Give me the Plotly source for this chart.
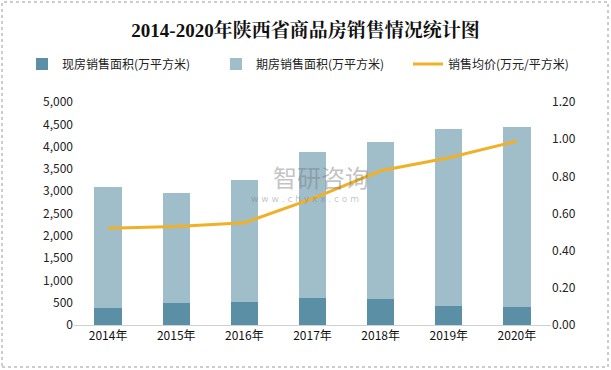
import plotly.graph_objects as go

years = ["2014年", "2015年", "2016年", "2017年", "2018年", "2019年", "2020年"]
spot_area = [380, 500, 520, 610, 585, 435, 410]          # 现房销售面积
presale_area = [2715, 2460, 2730, 3270, 3525, 3960, 4030]  # 期房销售面积
avg_price = [0.52, 0.53, 0.55, 0.68, 0.83, 0.90, 0.99]     # 销售均价

L, R, T, B = 74, 60, 102, 45
W, H = 611, 370
pw, ph = W - L - R, H - T - B

cjk = "Noto Sans CJK SC"
fig = go.Figure()
fig.add_trace(go.Bar(x=years, y=spot_area, name="现房销售面积(万平方米)", legend="legend",
                     marker=dict(color="#5b8fa5", line=dict(width=0))))
fig.add_trace(go.Bar(x=years, y=presale_area, name="期房销售面积(万平方米)", legend="legend2",
                     marker=dict(color="#a0bdca", line=dict(width=0))))
fig.add_trace(go.Scatter(x=years, y=avg_price, name="销售均价(万元/平方米)", yaxis="y2", legend="legend3",
                         mode="lines", line=dict(color="#f0b027", width=3)))

legy = (H - B - 64) / ph
leg_common = dict(orientation="h", xanchor="left", y=legy, yanchor="middle",
                  font=dict(size=12, color="#222"), itemwidth=30, bgcolor="rgba(0,0,0,0)")

fig.update_layout(
    width=W, height=H,
    margin=dict(l=L, r=R, t=T, b=B, autoexpand=False),
    paper_bgcolor="white", plot_bgcolor="white",
    barmode="stack", bargap=0.6,
    font=dict(family=cjk, size=12, color="#222"),
    title=dict(text="<b>2014-2020年陕西省商品房销售情况统计图</b>",
               x=0.5, xanchor="center", y=1 - 30 / H, yanchor="middle",
               font=dict(family="Liberation Serif, Noto Serif CJK SC, Noto Sans CJK SC", size=19, color="#111")),
    legend=dict(x=(22 - L) / pw, **leg_common),
    legend2=dict(x=(216 - L) / pw, **leg_common),
    legend3=dict(x=(408 - L) / pw, **leg_common),
    xaxis=dict(showline=True, linecolor="#d0d0d0", linewidth=1, ticks="", showgrid=False,
               tickfont=dict(size=12, color="#111")),
    yaxis=dict(range=[0, 5000], dtick=500, tickformat=",", showgrid=False, zeroline=False,
               tickfont=dict(size=12, color="#222")),
    yaxis2=dict(range=[0, 1.2], dtick=0.2, tickformat=".2f", overlaying="y", side="right",
                showgrid=False, zeroline=False, tickfont=dict(size=12, color="#222")),
    showlegend=True,
)

fig.add_shape(type="rect", xref="paper", yref="paper",
              x0=-(L - 2) / pw, x1=1 + (R - 3) / pw, y0=-(B - 3) / ph, y1=1 + (T - 2) / ph,
              line=dict(color="#9a9a9a", width=1, dash="dot"), fillcolor="rgba(0,0,0,0)")

fig.add_annotation(text="智研咨询", xref="paper", yref="paper",
                   x=(321 - L) / pw, y=(H - B - 176) / ph, xanchor="center", yanchor="middle",
                   showarrow=False, borderpad=0,
                   font=dict(family=cjk, size=24, color="rgba(120,120,120,0.45)"))
fig.add_annotation(text="w w w . c h y x x . c o m", xref="paper", yref="paper",
                   x=(305 - L) / pw, y=(H - B - 199) / ph, xanchor="center", yanchor="middle",
                   showarrow=False, borderpad=0,
                   font=dict(family="DejaVu Sans", size=9, color="rgba(120,120,120,0.45)"))

fig.write_html("out.html", config={"displayModeBar": False},
               post_script="document.body.style.margin='0';document.body.style.padding='0';")
